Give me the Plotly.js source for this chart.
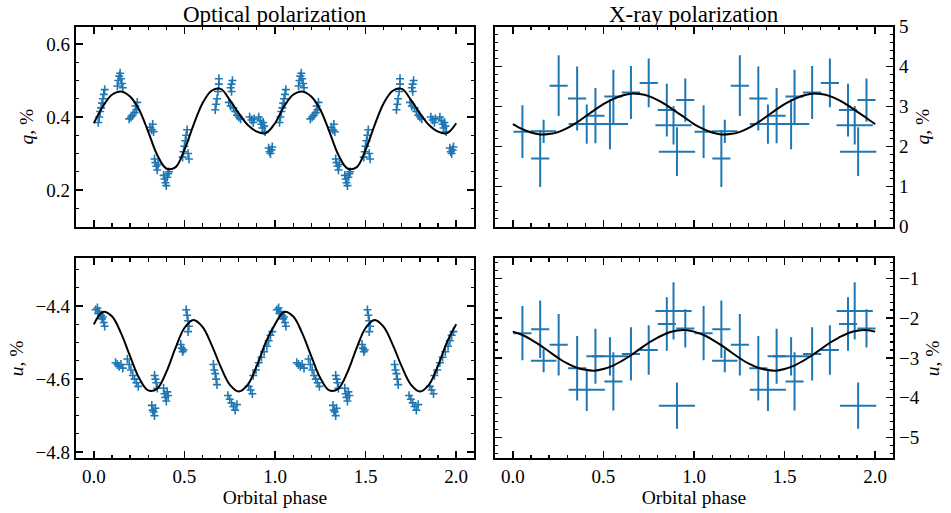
<!DOCTYPE html>
<html><head><meta charset="utf-8">
<script src="https://cdn.plot.ly/plotly-3.0.1.min.js"></script>
<style>body{margin:0;padding:0;background:#fff}#plot{width:951px;height:513px}</style>
</head><body><div id="plot"></div>
<script>
// ---------- Optical q (period 1 and 2 phases) ----------
const optQPhase1 = [0.025,0.030,0.035,0.040,0.045,0.050,0.055,0.060,
  0.130,0.135,0.140,0.145,0.150,0.155,0.160,
  0.195,0.205,0.215,0.225,0.230,0.235,0.240,
  0.310,0.320,0.325,0.330,
  0.335,0.340,0.345,0.350,0.355,
  0.385,0.390,0.395,0.400,0.405,0.410,0.415,
  0.490,0.495,0.500,0.505,0.510,0.515,0.520,0.525,
  0.670,0.675,0.680,0.685,0.690,0.690,
  0.755,0.760,0.765,0.760,
  0.745,0.755,0.770,0.780,0.790,0.800,0.810,
  0.860,0.870,0.880,0.885,
  0.910,0.920,0.925,0.930,0.935,0.940,0.945,
  0.965,0.970,0.975,0.980,0.985];
const optQPhase2 = [1.025,1.030,1.035,1.040,1.045,1.050,1.055,1.060,
  1.130,1.135,1.140,1.145,1.150,1.155,1.160,
  1.195,1.205,1.215,1.225,1.230,1.235,1.240,
  1.310,1.320,1.325,1.330,
  1.335,1.340,1.345,1.350,1.355,
  1.385,1.390,1.395,1.400,1.405,1.410,1.415,
  1.490,1.495,1.500,1.505,1.510,1.515,1.520,1.525,
  1.670,1.675,1.680,1.685,1.690,1.690,
  1.755,1.760,1.765,1.760,
  1.745,1.755,1.770,1.780,1.790,1.800,1.810,
  1.860,1.870,1.880,1.885,
  1.910,1.920,1.925,1.930,1.935,1.940,1.945,
  1.965,1.970,1.975,1.980,1.985];
const optQ = [0.385,0.400,0.415,0.425,0.438,0.450,0.462,0.475,
  0.485,0.500,0.512,0.520,0.505,0.492,0.480,
  0.395,0.400,0.405,0.412,0.430,0.420,0.440,
  0.372,0.365,0.380,0.360,
  0.285,0.275,0.265,0.255,0.270,
  0.240,0.230,0.220,0.212,0.235,0.245,0.250,
  0.290,0.305,0.320,0.335,0.350,0.365,0.300,0.285,
  0.420,0.435,0.450,0.470,0.490,0.505,
  0.480,0.490,0.500,0.470,
  0.440,0.430,0.425,0.415,0.405,0.400,0.395,
  0.400,0.392,0.385,0.395,
  0.400,0.390,0.380,0.370,0.385,0.375,0.360,
  0.315,0.305,0.300,0.310,0.318];
const optQErrX = 0.022, optQErrY = 0.012;

// ---------- Optical u ----------
const optUPhase1 = [0.010,0.020,0.025,0.030,0.040,0.045,0.050,0.055,0.060,
  0.120,0.130,0.140,0.150,0.160,
  0.185,0.195,0.205,0.215,0.225,0.235,0.245,
  0.320,0.325,0.330,0.335,0.340,
  0.335,0.340,0.345,0.350,
  0.385,0.390,0.395,0.400,0.405,0.410,
  0.480,0.485,0.490,0.495,
  0.510,0.515,0.520,0.525,0.520,
  0.660,0.665,0.670,0.675,0.680,
  0.740,0.750,0.760,0.770,0.780,0.790,
  0.855,0.865,0.875,
  0.880,0.895,0.910,0.925,0.940,0.955,0.965,0.975,0.985];
const optUPhase2 = [1.010,1.020,1.025,1.030,1.040,1.045,1.050,1.055,1.060,
  1.120,1.130,1.140,1.150,1.160,
  1.185,1.195,1.205,1.215,1.225,1.235,1.245,
  1.320,1.325,1.330,1.335,1.340,
  1.335,1.340,1.345,1.350,
  1.385,1.390,1.395,1.400,1.405,1.410,
  1.480,1.485,1.490,1.495,
  1.510,1.515,1.520,1.525,1.520,
  1.660,1.665,1.670,1.675,1.680,
  1.740,1.750,1.760,1.770,1.780,1.790,
  1.855,1.865,1.875,
  1.880,1.895,1.910,1.925,1.940,1.955,1.965,1.975,1.985];
const optU = [-4.410,-4.405,-4.420,-4.415,-4.425,-4.435,-4.430,-4.445,-4.455,
  -4.555,-4.560,-4.565,-4.560,-4.570,
  -4.545,-4.560,-4.575,-4.590,-4.600,-4.610,-4.620,
  -4.672,-4.685,-4.690,-4.700,-4.680,
  -4.590,-4.600,-4.610,-4.625,
  -4.625,-4.640,-4.650,-4.660,-4.635,-4.645,
  -4.505,-4.515,-4.525,-4.520,
  -4.410,-4.425,-4.440,-4.455,-4.470,
  -4.560,-4.575,-4.585,-4.600,-4.615,
  -4.645,-4.655,-4.665,-4.675,-4.685,-4.670,
  -4.620,-4.630,-4.640,
  -4.590,-4.575,-4.555,-4.540,-4.525,-4.510,-4.495,-4.480,-4.470];
const optUErrX = 0.022, optUErrY = 0.012;

// ---------- Model curves ----------
const modelPhase = [0.00,0.05,0.10,0.15,0.20,0.25,0.30,0.35,0.40,0.45,0.50,0.55,0.60,0.65,0.70,0.75,0.80,0.85,0.90,0.95,
  1.00,1.05,1.10,1.15,1.20,1.25,1.30,1.35,1.40,1.45,1.50,1.55,1.60,1.65,1.70,1.75,1.80,1.85,1.90,1.95,2.00];
const optQModel = [0.383,0.429,0.461,0.470,0.456,0.420,0.360,0.296,0.259,0.262,0.310,0.378,0.438,0.472,0.477,0.447,0.410,0.378,0.360,0.356,
  0.383,0.429,0.461,0.470,0.456,0.420,0.360,0.296,0.259,0.262,0.310,0.378,0.438,0.472,0.477,0.447,0.410,0.378,0.360,0.356,0.383];
const optUModel = [-4.450,-4.416,-4.428,-4.474,-4.537,-4.597,-4.631,-4.626,-4.581,-4.516,-4.460,-4.438,-4.457,-4.506,-4.566,-4.615,-4.634,-4.615,-4.563,-4.498,
  -4.450,-4.416,-4.428,-4.474,-4.537,-4.597,-4.631,-4.626,-4.581,-4.516,-4.460,-4.438,-4.457,-4.506,-4.566,-4.615,-4.634,-4.615,-4.563,-4.498,-4.450];
const xrQModel = [2.56,2.44,2.35,2.30,2.31,2.36,2.46,2.59,2.75,2.91,3.06,3.18,3.27,3.32,3.31,3.26,3.16,3.03,2.87,2.72,
  2.56,2.44,2.35,2.30,2.31,2.36,2.46,2.59,2.75,2.91,3.06,3.18,3.27,3.32,3.31,3.26,3.16,3.03,2.87,2.72,2.56];
const xrUModel = [-2.34,-2.42,-2.54,-2.68,-2.84,-3.00,-3.14,-3.24,-3.30,-3.32,-3.28,-3.20,-3.08,-2.94,-2.78,-2.62,-2.49,-2.38,-2.32,-2.30,
  -2.34,-2.42,-2.54,-2.68,-2.84,-3.00,-3.14,-3.24,-3.30,-3.32,-3.28,-3.20,-3.08,-2.94,-2.78,-2.62,-2.49,-2.38,-2.32,-2.30,-2.34];

// ---------- X-ray ----------
const xrPhase1 = [0.053,0.151,0.170,0.253,0.355,0.408,0.456,0.536,0.555,0.652,0.750,0.850,0.887,0.906,0.952];
const xrPhase2 = [1.053,1.151,1.170,1.253,1.355,1.408,1.456,1.536,1.555,1.652,1.750,1.850,1.887,1.906,1.952];
const xrPhaseErr = [0.05,0.05,0.07,0.05,0.05,0.10,0.05,0.10,0.05,0.05,0.05,0.05,0.10,0.10,0.05];
const xrQ = [2.37,1.70,2.38,3.52,3.20,2.56,2.77,2.56,3.25,3.35,3.59,2.91,2.53,1.87,3.16];
const xrQErr = [0.66,0.71,0.29,0.76,0.80,0.49,0.69,0.63,0.67,0.66,0.61,0.66,0.48,0.61,0.54];
const xrU = [-2.38,-2.28,-3.07,-2.67,-3.26,-3.80,-2.96,-2.96,-3.59,-2.90,-2.80,-2.15,-1.82,-4.20,-2.26];
const xrUErr = [0.68,0.72,0.29,0.77,0.81,0.53,0.69,0.48,0.73,0.67,0.62,0.67,0.72,0.58,0.48];

// ---------- Text ----------
const panelTitles = ['Optical polarization', 'X-ray polarization'];
const xTitle = 'Orbital phase';
const qTitle = '<i>q</i>, %';
const uTitle = '<i>u</i>, %';

const blue = '#1f77b4';
const FONT = 'Liberation Serif';

function errPts(x, y, ex, ey, xa, ya, th) {
  const exObj = Array.isArray(ex) ? {type:'data', array: ex} : {type:'constant', value: ex};
  const eyObj = Array.isArray(ey) ? {type:'data', array: ey} : {type:'constant', value: ey};
  return {
    type: 'scatter', mode: 'markers', x: x, y: y, xaxis: xa, yaxis: ya,
    marker: {size: 1, color: blue},
    error_x: Object.assign(exObj, {visible: true, color: blue, thickness: th, width: 0}),
    error_y: Object.assign(eyObj, {visible: true, color: blue, thickness: th, width: 0}),
    showlegend: false, hoverinfo: 'skip'
  };
}
function model(y, xa, ya) {
  return {type:'scatter', mode:'lines', x: modelPhase, y: y, xaxis: xa, yaxis: ya,
    line: {color:'black', width: 2, shape:'spline', smoothing: 1}, showlegend:false, hoverinfo:'skip'};
}

const traces = [
  errPts(optQPhase1, optQ, optQErrX, optQErrY, 'x', 'y', 1.6),
  errPts(optQPhase2, optQ, optQErrX, optQErrY, 'x', 'y', 1.6),
  model(optQModel, 'x', 'y'),
  errPts(xrPhase1, xrQ, xrPhaseErr, xrQErr, 'x2', 'y2', 2),
  errPts(xrPhase2, xrQ, xrPhaseErr, xrQErr, 'x2', 'y2', 2),
  model(xrQModel, 'x2', 'y2'),
  errPts(optUPhase1, optU, optUErrX, optUErrY, 'x3', 'y3', 1.6),
  errPts(optUPhase2, optU, optUErrX, optUErrY, 'x3', 'y3', 1.6),
  model(optUModel, 'x3', 'y3'),
  errPts(xrPhase1, xrU, xrPhaseErr, xrUErr, 'x4', 'y4', 2),
  errPts(xrPhase2, xrU, xrPhaseErr, xrUErr, 'x4', 'y4', 2),
  model(xrUModel, 'x4', 'y4')
];

const W = 951, H = 513;
const dxL = [75.7/W, 474.3/W], dxR = [494.7/W, 893.3/W];
const dyT = [(H-226.5)/H, (H-26.5)/H], dyB = [(H-458.3)/H, (H-258.3)/H];

function baseAxis(extra) {
  return Object.assign({
    showline: true, linecolor: 'black', linewidth: 2, mirror: 'ticks',
    ticks: 'inside', ticklen: 7, tickwidth: 1.4, tickcolor: 'black',
    showgrid: false, zeroline: false,
    tickfont: {family: FONT, size: 19, color: 'black'},
  }, extra);
}
function xAxis(dom, anchor, labels) {
  return baseAxis({domain: dom, anchor: anchor, range: [-0.1, 2.1], tick0: 0, dtick: 0.5,
    tickformat: '.1f', showticklabels: labels, ticklabelstandoff: 0,
    minor: {ticks:'inside', ticklen: 3.5, tickwidth: 1.2, tickcolor:'black', dtick: 0.1, tick0: 0},
    title: labels ? {text: xTitle, font: {family: FONT, size: 19.5, color:'black'}, standoff: 3} : {text: ''}
  });
}

const layout = {
  width: W, height: H,
  margin: {l: 0, r: 0, t: 0, b: 0},
  paper_bgcolor: 'white', plot_bgcolor: 'white',
  font: {family: FONT, color: 'black'},
  showlegend: false,
  xaxis: xAxis(dxL, 'y', false),
  xaxis2: xAxis(dxR, 'y2', false),
  xaxis3: xAxis(dxL, 'y3', true),
  xaxis4: xAxis(dxR, 'y4', true),
  yaxis: baseAxis({domain: dyT, anchor: 'x', range: [0.10, 0.648], tick0: 0, dtick: 0.2, tickformat: '.1f',
    minor: {ticks:'inside', ticklen: 3.5, tickwidth: 1.2, tickcolor:'black', dtick: 0.05, tick0: 0},
    title: {text: qTitle, font: {family: FONT, size: 19.5, color:'black'}, standoff: 7}}),
  yaxis2: baseAxis({domain: dyT, anchor: 'x2', side: 'right', range: [0, 5], tick0: 0, dtick: 1,
    minor: {ticks:'inside', ticklen: 3.5, tickwidth: 1.2, tickcolor:'black', dtick: 0.2, tick0: 0},
    title: {text: qTitle, font: {family: FONT, size: 19.5, color:'black'}, standoff: 7}}),
  yaxis3: baseAxis({domain: dyB, anchor: 'x3', range: [-4.817, -4.269], tick0: 0, dtick: 0.2, tickformat: '.1f',
    minor: {ticks:'inside', ticklen: 3.5, tickwidth: 1.2, tickcolor:'black', dtick: 0.05, tick0: 0},
    title: {text: uTitle, font: {family: FONT, size: 19.5, color:'black'}, standoff: 7}}),
  yaxis4: baseAxis({domain: dyB, anchor: 'x4', side: 'right', range: [-5.52, -0.50], tick0: 0, dtick: 1,
    minor: {ticks:'inside', ticklen: 3.5, tickwidth: 1.2, tickcolor:'black', dtick: 0.2, tick0: 0},
    title: {text: uTitle, font: {family: FONT, size: 19.5, color:'black'}, standoff: 7}}),
  annotations: [
    {text: panelTitles[0], xref:'paper', yref:'paper', x: (dxL[0]+dxL[1])/2, y: (H-14)/H,
     xanchor:'center', yanchor:'middle', showarrow:false, font:{family: FONT, size: 23, color:'black'}},
    {text: panelTitles[1], xref:'paper', yref:'paper', x: (dxR[0]+dxR[1])/2, y: (H-14)/H,
     xanchor:'center', yanchor:'middle', showarrow:false, font:{family: FONT, size: 23, color:'black'}}
  ]
};

Plotly.newPlot('plot', traces, layout, {staticPlot: true, displayModeBar: false});
</script>
</body></html>
